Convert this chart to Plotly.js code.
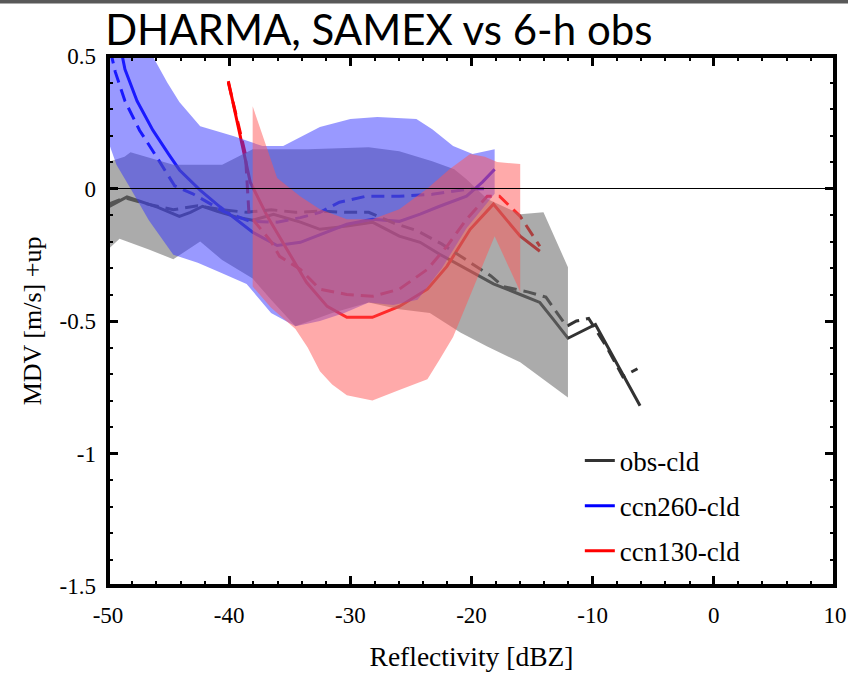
<!DOCTYPE html>
<html><head><meta charset="utf-8">
<script src="https://cdn.plot.ly/plotly-3.0.1.min.js"></script>
<style>html,body{margin:0;padding:0;background:#fff}#chart{width:848px;height:674px}</style>
</head><body><div id="chart"></div>
<script>
// ---- data ----
const obsX      = [-50,-48.43,-45.92,-44.11,-43.2,-42.19,-40.98,-39.37,-38.06,-36.34,-34.12,-32.51,-30.29,-28.18,-25.96,-24.24,-22.63,-20.41,-18.19,-15.98,-14.36,-13.25,-12.04,-9.77,-8.31,-6.09];
const obsY      = [-0.07,-0.032,-0.07,-0.105,-0.09,-0.067,-0.086,-0.108,-0.12,-0.097,-0.127,-0.154,-0.142,-0.127,-0.18,-0.203,-0.248,-0.305,-0.36,-0.4,-0.43,-0.494,-0.565,-0.513,-0.634,-0.82];
const obsDX     = [-50,-48.64,-46.63,-44.61,-42.59,-40.58,-38.56,-36.54,-34.53,-32.51,-30.5,-28.48,-26.46,-24.45,-22.43,-20.41,-18.4,-17.39,-15.37,-13.86,-12.75,-12.15,-11.34,-10.33,-8.82,-7.51,-6.3];
const obsDY     = [-0.06,-0.035,-0.06,-0.08,-0.065,-0.08,-0.09,-0.08,-0.09,-0.085,-0.09,-0.09,-0.13,-0.16,-0.21,-0.27,-0.33,-0.37,-0.39,-0.41,-0.48,-0.52,-0.5,-0.49,-0.6,-0.71,-0.68];
const c260X     = [-49.0,-48.6,-47.6,-46.3,-45.0,-44.1,-42.4,-40.76,-38.06,-36.04,-34.12,-31.91,-30.29,-28.18,-25.96,-24.24,-22.63,-20.41,-19.1,-18.09];
const c260Y     = [0.54,0.45,0.33,0.22,0.13,0.07,-0.006,-0.069,-0.165,-0.215,-0.203,-0.165,-0.135,-0.116,-0.124,-0.097,-0.067,-0.029,0.024,0.073];
const c260DX    = [-49.8,-49.4,-48.6,-47.4,-46.0,-44.5,-43.0,-40.48,-38.26,-36.04,-34.12,-32.51,-30.9,-28.68,-25.96,-23.24,-20.41,-18.7];
const c260DY    = [0.52,0.44,0.33,0.22,0.12,0.01,-0.02,-0.086,-0.124,-0.127,-0.11,-0.09,-0.052,-0.029,-0.029,-0.022,-0.003,0];
const c130X     = [-40.07,-39.07,-38.26,-36.85,-35.23,-33.62,-31.91,-30.29,-28.18,-25.96,-23.64,-22.03,-20.11,-18.19,-15.98,-14.36];
const c130Y     = [0.405,0.198,0.024,-0.105,-0.23,-0.354,-0.445,-0.486,-0.486,-0.445,-0.38,-0.294,-0.154,-0.059,-0.18,-0.237];
const c130DX    = [-40.07,-39.07,-38.66,-38.36,-36.54,-35.84,-34.12,-32.51,-30.29,-28.18,-25.96,-23.64,-22.03,-20.41,-18.7,-17.69,-15.98,-14.36];
const c130DY    = [0.4,0.2,0.13,-0.1,-0.2,-0.256,-0.305,-0.38,-0.4,-0.407,-0.38,-0.305,-0.218,-0.116,-0.029,-0.029,-0.105,-0.218];
// spread bands: upper and lower edges
const obsBandUpX = [-50,-48.64,-48.14,-44.61,-40.58,-38.06,-33.52,-28.48,-25.96,-23.24,-21.42,-20.41,-18.7,-15.98,-14.06,-12.04];
const obsBandUpY = [0.1,0.12,0.137,0.09,0.09,0.148,0.148,0.156,0.141,0.103,0.073,0.035,-0.04,-0.097,-0.09,-0.297];
const obsBandLoX = [-50,-49.05,-46.63,-44.61,-42.39,-40.58,-39.37,-38.06,-36.54,-34.53,-31.5,-28.48,-25.96,-23.44,-20.92,-18.7,-15.98,-13.76,-12.04];
const obsBandLoY = [-0.23,-0.19,-0.23,-0.267,-0.2,-0.27,-0.305,-0.34,-0.42,-0.52,-0.47,-0.43,-0.456,-0.47,-0.543,-0.596,-0.656,-0.73,-0.789];
const c260BandUpX = [-50,-47.13,-46.32,-45.11,-44.11,-42.39,-39.67,-37.25,-35.54,-32.51,-29.99,-27.77,-24.55,-23.24,-21.52,-19.91,-18.09];
const c260BandUpY = [0.7,0.6,0.5,0.4,0.326,0.235,0.198,0.16,0.16,0.232,0.262,0.27,0.262,0.224,0.16,0.13,0.148];
const c260BandLoX = [-50,-49.3,-48.14,-46.63,-44.61,-42.59,-40.58,-38.56,-36.54,-34.53,-32.51,-30.5,-28.48,-26.46,-24.45,-22.43,-20.41,-18.09];
const c260BandLoY = [0.18,0.09,0.0,-0.12,-0.25,-0.28,-0.32,-0.36,-0.47,-0.52,-0.5,-0.47,-0.43,-0.44,-0.42,-0.3,-0.15,-0.02];
const c130BandUpX = [-38.06,-36.04,-34.12,-32.51,-30.29,-28.18,-25.96,-23.64,-21.82,-20.11,-18.9,-17.89,-15.98];
const c130BandUpY = [0.31,0.04,-0.03,-0.078,-0.116,-0.116,-0.078,0.0,0.073,0.13,0.12,0.1,0.092];
const c130BandLoX = [-38.06,-36.54,-34.53,-33.52,-32.51,-31.5,-30.29,-28.18,-25.96,-23.64,-22.63,-21.52,-19.91,-18.09,-15.98];
const c130BandLoY = [-0.37,-0.45,-0.53,-0.6,-0.69,-0.74,-0.78,-0.8,-0.76,-0.72,-0.645,-0.56,-0.38,-0.18,-0.39];
const xTickVals = [-50,-40,-30,-20,-10,0,10];
const xTickText = ['-50','-40','-30','-20','-10','0','10'];
const yTickVals = [-1.5,-1,-0.5,0,0.5];
const yTickText = ['-1.5','-1','-0.5','0','0.5'];
const legendNames = ['obs-cld','ccn260-cld','ccn130-cld'];

// ---- traces ----
function band(upX, upY, loX, loY, color){
  return {x: upX.concat(loX.slice().reverse()), y: upY.concat(loY.slice().reverse()),
          mode:'lines', fill:'toself', fillcolor:color, line:{width:0, color:'rgba(0,0,0,0)'},
          showlegend:false, hoverinfo:'skip'};
}
function line(x, y, color, dash, name, show){
  return {x:x, y:y, mode:'lines', line:{color:color, width:3, dash:dash},
          name:name, showlegend:show, legendgroup:name};
}
const traces = [
  line(obsX, obsY, '#333333', 'solid', legendNames[0], true),
  line(c260X, c260Y, '#0000ff', 'solid', legendNames[1], true),
  line(c130X, c130Y, '#ff0000', 'solid', legendNames[2], true),
  line(obsDX, obsDY, '#333333', '13px,7px', 'obsd', false),
  line(c260DX, c260DY, '#0000ff', '13px,7px', 'c260d', false),
  line(c130DX, c130DY, '#ff0000', '13px,7px', 'c130d', false),
  band(obsBandUpX, obsBandUpY, obsBandLoX, obsBandLoY, 'rgba(110,110,110,0.58)'),
  band(c260BandUpX, c260BandUpY, c260BandLoX, c260BandLoY, 'rgba(51,51,255,0.5)'),
  band(c130BandUpX, c130BandUpY, c130BandLoX, c130BandLoY, 'rgba(255,85,85,0.5)')
];

const serif = '"Liberation Serif", "Times New Roman", Times, serif';
const layout = {
  width:848, height:674,
  font:{family:serif, size:23, color:'#000'},
  margin:{l:108, r:13, t:56, b:88},
  paper_bgcolor:'#fff', plot_bgcolor:'#fff',
  title:{text:'DHARMA, SAMEX vs 6-h obs', font:{family:'Lato', size:42, color:'#000'},
         xref:'container', yref:'container', x:0.124, xanchor:'left', y:0.955, yanchor:'middle'},
  xaxis:{range:[-50,10], tickmode:'array', tickvals:xTickVals, ticktext:xTickText, ticklabelstandoff:13,
         showgrid:false, zeroline:false, showline:false,
         ticks:'inside', ticklen:10, tickwidth:3, tickcolor:'#000', mirror:'allticks',
         tickfont:{family:serif, size:23, color:'#000', weight:'normal'},
         minor:{dtick:2, tick0:-50, ticks:'inside', ticklen:5, tickwidth:2, tickcolor:'#000', showgrid:false},
         title:{text:'Reflectivity [dBZ]', font:{family:serif, size:27.5, color:'#000'}, standoff:19}},
  yaxis:{range:[-1.5,0.5], tickmode:'array', tickvals:yTickVals, ticktext:yTickText, ticklabelstandoff:11,
         showgrid:false, zeroline:false, showline:false,
         ticks:'inside', ticklen:10, tickwidth:3, tickcolor:'#000', mirror:'allticks',
         tickfont:{family:serif, size:23, color:'#000', weight:'normal'},
         minor:{dtick:0.1, tick0:-1.5, ticks:'inside', ticklen:5, tickwidth:2, tickcolor:'#000', showgrid:false},
         title:{text:'MDV [m/s] +up', font:{family:serif, size:26, color:'#000'}, standoff:10}},
  legend:{x:0.649, y:0.282, xanchor:'left', yanchor:'top', bgcolor:'rgba(0,0,0,0)', borderwidth:0,
          font:{family:serif, size:27, color:'#000'}, tracegroupgap:7},
  shapes:[
    {type:'line', xref:'paper', yref:'y', x0:0, x1:1, y0:0, y1:0, line:{color:'#000', width:1.2}, layer:'above'},
    {type:'rect', xref:'paper', yref:'paper', x0:0, x1:1, y0:0, y1:1, line:{color:'#000', width:4}, fillcolor:'rgba(0,0,0,0)', layer:'above'},
    {type:'rect', xref:'paper', yref:'paper', x0:-0.2, x1:1.1, y0:1.099, y1:1.13, fillcolor:'#595959', line:{width:0}, layer:'above'}
  ],
  showlegend:true
};
Plotly.newPlot('chart', traces, layout, {staticPlot:true});
</script>
</body></html>
